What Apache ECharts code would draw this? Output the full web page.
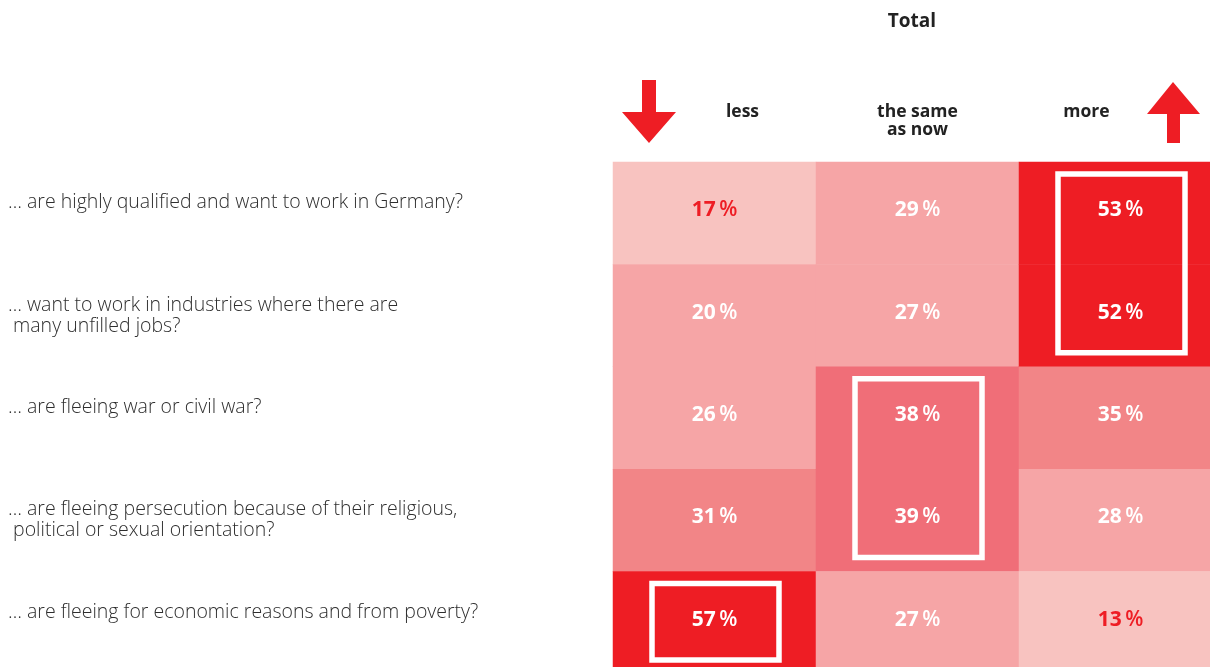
<!DOCTYPE html>
<html>
<head>
<meta charset="utf-8">
<style>
  html, body { margin: 0; padding: 0; background: #fff; }
  #chart { width: 1210px; height: 667px; }
</style>
<script src="https://cdn.jsdelivr.net/npm/echarts@6/dist/echarts.min.js"></script>
</head>
<body>
<div id="chart"></div>
<script>
// Answer options (columns)
const answers = ['less', 'the same\nas now', 'more'];

// Survey statements (rows)
const statements = [
  '… are highly qualified and want to work in Germany?',
  '… want to work in industries where there are\n many unfilled jobs?',
  '… are fleeing war or civil war?',
  '… are fleeing persecution because of their religious,\n political or sexual orientation?',
  '… are fleeing for economic reasons and from poverty?'
];

// Share of respondents in % per statement: less / the same / more
const lessValues = [17, 20, 26, 31, 57];
const sameValues = [29, 27, 38, 39, 27];
const moreValues = [53, 52, 35, 28, 13];

// Highlighted blocks: [column, first row, last row]
const highlights = [[2, 0, 1], [1, 2, 3], [0, 4, 4]];

const RED = '#ee1d24';
const PCT_GAP = '\u2009';

const cells = [];
[lessValues, sameValues, moreValues].forEach((vals, col) => {
  vals.forEach((v, row) => cells.push([col, row, v]));
});

const headStyle = { fontFamily: 'Open Sans', fontWeight: 'bold', fontSize: 17.5, color: '#222', lineHeight: 18 };

const chart = echarts.init(document.getElementById('chart'));

chart.setOption({
  backgroundColor: '#ffffff',
  animation: false,
  grid: { left: 613, top: 162, right: -12, bottom: -7, outerBoundsMode: 'none' },
  xAxis: {
    type: 'category',
    data: answers,
    position: 'top',
    axisLine: { show: false },
    axisTick: { show: false },
    splitLine: { show: false },
    axisLabel: {
      margin: 59,
      verticalAlign: 'top',
      formatter: (v, i) => '{c' + i + '|' + v.split('\n').join('}\n{c' + i + '|') + '}',
      rich: {
        c0: Object.assign({}, headStyle, { padding: [0, 0, 0, 56] }),
        c1: Object.assign({}, headStyle),
        c2: Object.assign({}, headStyle, { padding: [0, 68, 0, 0] })
      }
    }
  },
  yAxis: {
    type: 'category',
    data: statements,
    inverse: true,
    axisLine: { show: false },
    axisTick: { show: false },
    splitLine: { show: false },
    axisLabel: {
      margin: 605,
      align: 'left',
      fontFamily: 'Open Sans',
      fontWeight: 300,
      fontSize: 19.5,
      color: '#2e2e2e',
      lineHeight: 21,
      // one-line statements sit slightly above the row centre, like the first line of two-line ones
      formatter: v => (v.indexOf('\n') >= 0 ? v : v + '\n')
    }
  },
  visualMap: {
    show: false,
    type: 'piecewise',
    dimension: 2,
    seriesIndex: 0,
    pieces: [
      { min: 0, max: 19, color: '#f8c3c0' },
      { min: 19, max: 30, color: '#f6a5a6' },
      { min: 30, max: 36, color: '#f28587' },
      { min: 36, max: 45, color: '#f06e78' },
      { min: 45, max: 100, color: RED }
    ]
  },
  series: [
    {
      type: 'heatmap',
      data: cells,
      itemStyle: { borderWidth: 0 },
      emphasis: { disabled: true },
      label: {
        show: true,
        offset: [0, -3],
        formatter: p => {
          const k = p.value[2] < 19 ? 'r' : 'w';
          return '{' + k + 'n|' + p.value[2] + '}{' + k + 'p|' + PCT_GAP + '%}';
        },
        rich: {
          wn: { fontFamily: 'Open Sans', fontWeight: 'bold', fontSize: 21, color: '#fff' },
          wp: { fontFamily: 'Open Sans', fontWeight: 600, fontSize: 21, color: '#fff' },
          rn: { fontFamily: 'Open Sans', fontWeight: 'bold', fontSize: 21, color: RED },
          rp: { fontFamily: 'Open Sans', fontWeight: 600, fontSize: 21, color: RED }
        }
      }
    },
    {
      type: 'custom',
      data: highlights,
      silent: true,
      z: 5,
      renderItem: (params, api) => {
        const col = api.value(0);
        const top = api.coord([col, api.value(1)]);
        const bottom = api.coord([col, api.value(2)]);
        const size = api.size([1, 1]);
        const w = 127;
        const y0 = top[1] - size[1] / 2 + 12;
        const y1 = bottom[1] + size[1] / 2 - 14;
        return {
          type: 'rect',
          shape: { x: top[0] - w / 2 + 1, y: y0, width: w, height: y1 - y0 },
          style: { fill: 'none', stroke: '#ffffff', lineWidth: 5.5 }
        };
      }
    }
  ],
  graphic: [
    {
      type: 'text',
      x: 912, y: 12,
      style: { text: 'Total', fontFamily: 'Open Sans', fontWeight: 'bold', fontSize: 19, fill: '#222', align: 'center' }
    },
    {
      // downward arrow beside "less"
      type: 'polygon',
      shape: { points: [[642, 80], [656, 80], [656, 112], [676, 112], [649, 143], [622, 112], [642, 112]] },
      style: { fill: RED }
    },
    {
      // upward arrow beside "more"
      type: 'polygon',
      shape: { points: [[1173, 82], [1200, 114], [1180, 114], [1180, 143], [1167, 143], [1167, 114], [1147, 114]] },
      style: { fill: RED }
    }
  ]
});
</script>
</body>
</html>
